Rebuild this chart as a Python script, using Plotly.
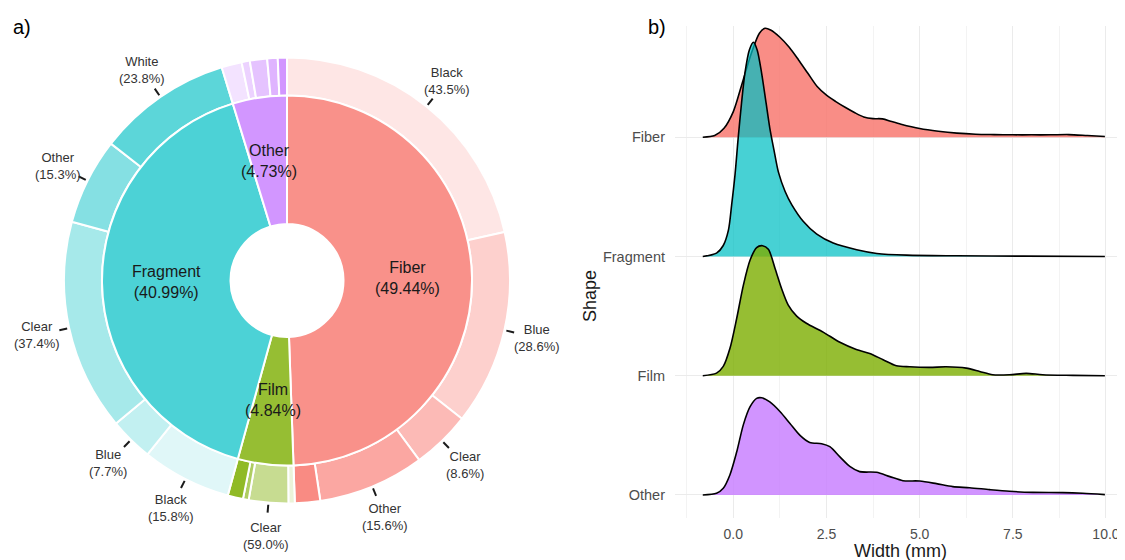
import math
import plotly.graph_objects as go

# ------------------------------------------------------------------
# Panel a) data : shape share and colour share inside each shape
# ------------------------------------------------------------------
shape_names = ["Fiber", "Film", "Fragment", "Other"]
shape_pct = [49.44, 4.84, 40.99, 4.73]

fiber_color_names = ["Black", "Blue", "Clear", "Other", "White"]
fiber_color_pct = [43.5, 28.6, 8.6, 15.6, 3.7]
film_color_names = ["Black", "Clear", "Other", "White"]
film_color_pct = [9.5, 59.0, 8.5, 23.0]
fragment_color_names = ["Black", "Blue", "Clear", "Other", "White"]
fragment_color_pct = [15.8, 7.7, 37.4, 15.3, 23.8]
other_color_names = ["Black", "Blue", "Clear", "Other", "White"]
other_color_pct = [31.0, 12.5, 26.5, 16.0, 14.0]

# ------------------------------------------------------------------
# Panel b) data : ridgeline density of particle width (read off picture)
# ------------------------------------------------------------------
row_order = ["Other", "Film", "Fragment", "Fiber"]  # bottom -> top

fiber_w = [-0.82, -0.5, -0.25, 0.0, 0.25, 0.5, 0.7, 0.85, 1.0, 1.25, 1.5, 1.75, 2.0,
           2.25, 2.5, 2.75, 3.0, 3.25, 3.5, 3.75, 4.0, 4.25, 4.5, 5.0, 5.5, 6.0,
           6.5, 7.0, 7.5, 8.0, 8.5, 9.0, 9.5, 9.97]
fiber_d = [0.0, 0.014, 0.075, 0.215, 0.466, 0.718, 0.872, 0.913, 0.899, 0.838, 0.754,
           0.648, 0.536, 0.425, 0.352, 0.299, 0.251, 0.207, 0.170, 0.156, 0.154, 0.131,
           0.109, 0.073, 0.050, 0.034, 0.025, 0.022, 0.020, 0.020, 0.020, 0.022, 0.014, 0.006]

fragment_w = [-0.82, -0.45, -0.27, -0.13, -0.045, 0.045, 0.13, 0.22, 0.31, 0.43, 0.54,
              0.64, 0.76, 0.88, 0.98, 1.09, 1.21, 1.39, 1.57, 1.88, 2.24, 2.68, 3.31,
              3.85, 4.65, 5.99, 7.78, 9.97]
fragment_d = [0.0, 0.028, 0.092, 0.223, 0.433, 0.684, 0.992, 1.285, 1.536, 1.732, 1.796,
              1.732, 1.536, 1.285, 1.075, 0.894, 0.707, 0.545, 0.433, 0.293, 0.187, 0.112,
              0.056, 0.025, 0.011, 0.006, 0.003, 0.0]

film_w = [-0.82, -0.45, -0.27, -0.09, 0.09, 0.27, 0.45, 0.625, 0.785, 0.94, 1.12, 1.29,
          1.47, 1.70, 1.96, 2.41, 2.86, 3.30, 3.66, 4.02, 4.375, 4.73, 5.27, 5.71, 6.25,
          6.61, 6.96, 7.41, 7.86, 8.30, 9.11, 9.97]
film_d = [0.0, 0.022, 0.078, 0.23, 0.48, 0.76, 0.97, 1.075, 1.09, 1.06, 0.90, 0.735,
          0.595, 0.50, 0.44, 0.366, 0.28, 0.22, 0.187, 0.134, 0.084, 0.075, 0.07, 0.075,
          0.064, 0.036, 0.008, 0.008, 0.02, 0.008, 0.003, 0.0]

other_w = [-0.82, -0.45, -0.27, -0.09, 0.09, 0.27, 0.45, 0.625, 0.76, 0.98, 1.25, 1.52,
           1.79, 2.05, 2.37, 2.59, 2.86, 3.125, 3.39, 3.84, 4.2, 4.55, 5.0, 5.45, 5.89,
           6.34, 6.875, 7.41, 8.04, 8.84, 9.375, 9.97]
other_d = [0.0, 0.014, 0.056, 0.17, 0.36, 0.59, 0.74, 0.81, 0.815, 0.78, 0.70, 0.60,
           0.50, 0.44, 0.43, 0.405, 0.32, 0.24, 0.196, 0.19, 0.154, 0.12, 0.117, 0.095,
           0.07, 0.061, 0.045, 0.031, 0.022, 0.02, 0.014, 0.003]

x_tick_vals = [0, 2.5, 5, 7.5, 10]
x_tick_text = ["0.0", "2.5", "5.0", "7.5", "10.0"]

# ------------------------------------------------------------------
# Styles / geometry  (pixel positions are page pixels; the page body has an
# 8 px default margin, so the figure itself is 8 px smaller and shifted)
# ------------------------------------------------------------------
PAGE_W, PAGE_H = 1125, 560
OFF = 8
W, H = PAGE_W - OFF, PAGE_H - OFF
FONT = "Liberation Sans, Arial, Helvetica, sans-serif"
base_rgb = {"Fiber": (248, 118, 109), "Film": (124, 174, 0),
            "Fragment": (0, 191, 196), "Other": (199, 124, 255)}
inner_alpha = {"Fiber": 0.8, "Film": 0.8, "Fragment": 0.7, "Other": 0.8}
outer_alpha = {"Fiber": [0.18, 0.34, 0.5, 0.64, 0.85],
               "Film": [0.15, 0.43, 0.62, 0.85],
               "Fragment": [0.12, 0.24, 0.35, 0.48, 0.64],
               "Other": [0.21, 0.34, 0.46, 0.57, 0.8]}
ridge_alpha = {"Fiber": 0.83, "Fragment": 0.72, "Film": 0.8, "Other": 0.82}

CX, CY = 287.0, 280.5          # donut centre (page px)
R_OUT, R_IN, R_HOLE = 223.0, 185.0, 56.5
TICK_R0, TICK_R1, LABEL_R = 225.0, 233.0, 256.0
LABEL_MIN_SHARE = 2.0          # outer slices below this share of total are not labelled


def tint(rgb, a):
    return "rgb(%d,%d,%d)" % tuple(round(255 - a * (255 - c)) for c in rgb)


def rgba(rgb, a):
    return "rgba(%d,%d,%d,%.2f)" % (rgb[0], rgb[1], rgb[2], a)


def px_x(xp):
    return (xp - OFF) / W


def px_y(yp):
    return 1 - (yp - OFF) / H


def polar(angle_deg, r):
    t = math.radians(angle_deg)
    return CX + r * math.sin(t), CY - r * math.cos(t)


color_tables = {"Fiber": (fiber_color_names, fiber_color_pct),
                "Film": (film_color_names, film_color_pct),
                "Fragment": (fragment_color_names, fragment_color_pct),
                "Other": (other_color_names, other_color_pct)}

# ------------------------------------------------------------------
# Build donut
# ------------------------------------------------------------------
outer_labels, outer_values, outer_colors, outer_text = [], [], [], []
for s, sp in zip(shape_names, shape_pct):
    names, pcts = color_tables[s]
    for i, (c, cp) in enumerate(zip(names, pcts)):
        outer_labels.append(f"{s} - {c}")
        outer_values.append(sp * cp / 100.0)
        outer_colors.append(tint(base_rgb[s], outer_alpha[s][i]))
        outer_text.append(f"{c}<br>({cp:.1f}%)")

fig = go.Figure()

fig.add_trace(go.Pie(
    values=outer_values, labels=outer_labels, sort=False, direction="clockwise",
    rotation=0, hole=R_IN / R_OUT, textinfo="none", showlegend=False,
    marker=dict(colors=outer_colors, line=dict(color="white", width=2)),
    domain=dict(x=[px_x(CX - R_OUT), px_x(CX + R_OUT)],
                y=[px_y(CY + R_OUT), px_y(CY - R_OUT)]),
    hovertemplate="%{label}<extra></extra>"))

fig.add_trace(go.Pie(
    values=shape_pct, labels=shape_names, sort=False, direction="clockwise",
    rotation=0, hole=R_HOLE / R_IN, textinfo="none", showlegend=False,
    marker=dict(colors=[tint(base_rgb[s], inner_alpha[s]) for s in shape_names],
                line=dict(color="white", width=2)),
    domain=dict(x=[px_x(CX - R_IN), px_x(CX + R_IN)],
                y=[px_y(CY + R_IN), px_y(CY - R_IN)]),
    hovertemplate="%{label}: %{value:.2f}%<extra></extra>"))

annotations = []
shapes_layout = []
total = sum(shape_pct)

# inner labels
cum = 0.0
for s, sp in zip(shape_names, shape_pct):
    mid = (cum + sp / 2) / total * 360
    xp, yp = polar(mid, (R_HOLE + R_IN) / 2)
    annotations.append(dict(x=px_x(xp), y=px_y(yp), xref="paper", yref="paper", showarrow=False,
                            text=f"{s}<br>({sp:.2f}%)", align="center",
                            font=dict(family=FONT, size=16, color="#1a1a1a"),
                            xanchor="center", yanchor="middle"))
    cum += sp

# outer labels with leader ticks
cum = 0.0
for v, t in zip(outer_values, outer_text):
    if v >= LABEL_MIN_SHARE:
        mid = (cum + v / 2) / total * 360
        x0, y0 = polar(mid, TICK_R0)
        x1, y1 = polar(mid, TICK_R1)
        shapes_layout.append(dict(type="line", xref="paper", yref="paper",
                                  x0=px_x(x0), y0=px_y(y0), x1=px_x(x1), y1=px_y(y1),
                                  line=dict(color="#1a1a1a", width=2)))
        xl, yl = polar(mid, LABEL_R)
        annotations.append(dict(x=px_x(xl), y=px_y(yl), xref="paper", yref="paper",
                                showarrow=False, text=t, align="center",
                                font=dict(family=FONT, size=13, color="#333333"),
                                xanchor="center", yanchor="middle"))
    cum += v

# ------------------------------------------------------------------
# Ridgelines
# ------------------------------------------------------------------
ridge_data = {"Fiber": (fiber_w, fiber_d), "Fragment": (fragment_w, fragment_d),
              "Film": (film_w, film_d), "Other": (other_w, other_d)}

for s in reversed(row_order):  # draw top row first so lower rows overlap
    base = row_order.index(s) + 1
    xs, ds = ridge_data[s]
    fig.add_trace(go.Scatter(x=[xs[0], xs[-1]], y=[base, base], mode="lines",
                             line=dict(width=0, color="rgba(0,0,0,0)"),
                             hoverinfo="skip", showlegend=False))
    fig.add_trace(go.Scatter(x=xs, y=[base + d for d in ds], mode="lines",
                             line=dict(color="black", width=1.6, shape="spline", smoothing=0.8),
                             fill="tonexty", fillcolor=rgba(base_rgb[s], ridge_alpha[s]),
                             name=s, showlegend=False,
                             hovertemplate=s + ": %{x:.2f} mm<extra></extra>"))

X0_PX, X1_PX = 675.0, 1125.0
Y_TOP_PX, Y_BOT_PX = 26.3, 518.0

# panel letters and axis titles
annotations += [
    dict(x=px_x(22), y=px_y(27), xref="paper", yref="paper", showarrow=False, text="a)",
         font=dict(family=FONT, size=20, color="black"), xanchor="center", yanchor="middle"),
    dict(x=px_x(657), y=px_y(27), xref="paper", yref="paper", showarrow=False, text="b)",
         font=dict(family=FONT, size=20, color="black"), xanchor="center", yanchor="middle"),
    dict(x=px_x((X0_PX + X1_PX) / 2), y=px_y(550.5), xref="paper", yref="paper",
         showarrow=False, text="Width (mm)",
         font=dict(family=FONT, size=18, color="#1a1a1a"), xanchor="center", yanchor="middle"),
    dict(x=px_x(589.5), y=px_y(296.5), xref="paper", yref="paper", showarrow=False,
         text="Shape", textangle=-90,
         font=dict(family=FONT, size=18, color="#1a1a1a"), xanchor="center", yanchor="middle"),
]

fig.update_layout(
    width=W, height=H, margin=dict(l=0, r=0, t=0, b=0),
    paper_bgcolor="white", plot_bgcolor="white",
    font=dict(family=FONT),
    showlegend=False,
    annotations=annotations, shapes=shapes_layout,
    xaxis=dict(domain=[px_x(X0_PX), px_x(X1_PX)], range=[-1.565, 10.51],
               tickvals=x_tick_vals, ticktext=x_tick_text, ticks="",
               showgrid=True, gridcolor="#EBEBEB", gridwidth=1.1,
               minor=dict(dtick=1.25, tick0=0, showgrid=True, gridcolor="#F3F3F3", gridwidth=0.8),
               zeroline=False, showline=False, automargin=False,
               tickfont=dict(family=FONT, size=14, color="#4D4D4D"), ticklabelstandoff=6),
    yaxis=dict(domain=[px_y(Y_BOT_PX), px_y(Y_TOP_PX)], range=[0.807, 4.93],
               tickvals=[1, 2, 3, 4], ticktext=row_order, ticks="",
               showgrid=True, gridcolor="#EBEBEB", gridwidth=1.1,
               zeroline=False, showline=False, automargin=False,
               tickfont=dict(family=FONT, size=14.5, color="#4D4D4D"), ticklabelstandoff=9),
)

fig.write_html("out.html")
